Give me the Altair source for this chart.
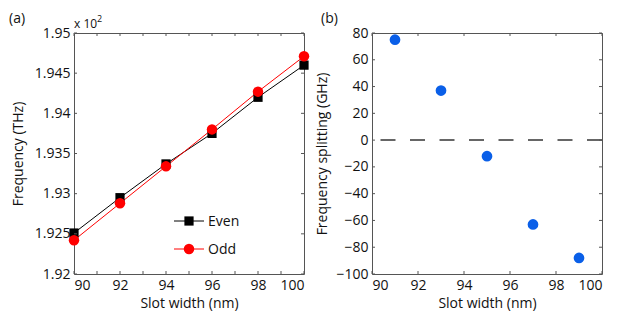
import altair as alt
import pandas as pd

# ---- data ----
slot_a = [90, 92, 94, 96, 98, 100]
even_freq = [1.9251, 1.9295, 1.9337, 1.9375, 1.9420, 1.9460]
odd_freq = [1.9242, 1.9288, 1.9334, 1.9380, 1.9427, 1.9471]

slot_b = [91, 93, 95, 97, 99]
splitting = [75, 37, -12, -63, -88]

xticks_a = list(range(90, 101))
yticks_a = [1.92, 1.925, 1.93, 1.935, 1.94, 1.945, 1.95]
xticks_b = [90, 92, 94, 96, 98, 100]
yticks_b = [-100, -80, -60, -40, -20, 0, 20, 40, 60, 80]

FONT = "Open Sans"
AX = "#555555"
W, H = 230, 241

df_a = pd.DataFrame({
    "w": slot_a * 2,
    "f": even_freq + odd_freq,
    "mode": ["Even"] * len(slot_a) + ["Odd"] * len(slot_a),
})
df_even = df_a[df_a["mode"] == "Even"]
df_odd = df_a[df_a["mode"] == "Odd"]
df_b = pd.DataFrame({"w": slot_b, "f": splitting})

xs_a = alt.Scale(domain=[90, 100], nice=False, zero=False)
ys_a = alt.Scale(domain=[1.92, 1.95], nice=False, zero=False)
xs_b = alt.Scale(domain=[90, 100], nice=False, zero=False)
ys_b = alt.Scale(domain=[-100, 80], nice=False, zero=False)

axis_common = dict(grid=False, domain=False, ticks=False, labelFont=FONT, titleFont=FONT,
                   labelFontSize=14, titleFontSize=14, labelColor="#111", titleColor="#111",
                   titleFontWeight="normal")

x_axis_a = alt.Axis(title="Slot width (nm)", values=xticks_b, labelPadding=4, titlePadding=4, **axis_common)
y_axis_a = alt.Axis(title="Frequency (THz)", values=yticks_a, labelExpr="format(datum.value, '.3~f')",
                    labelPadding=4, titlePadding=9, **axis_common)
x_axis_b = alt.Axis(title="Slot width (nm)", values=xticks_b, labelPadding=4, titlePadding=4, **axis_common)
y_axis_b = alt.Axis(title="Frequency splitting (GHz)", values=yticks_b, labelPadding=4, titlePadding=6,
                    **axis_common)


def inward_ticks(xvals, yvals, xs, ys, xa, ya):
    tx = pd.DataFrame({"w": xvals})
    ty = pd.DataFrame({"f": yvals})
    kw = dict(color=AX, strokeWidth=1)
    bottom = alt.Chart(tx).mark_rule(**kw).encode(
        x=alt.X("w:Q", scale=xs, axis=xa), y=alt.value(H), y2=alt.value(H - 3))
    top = alt.Chart(tx).mark_rule(**kw).encode(
        x=alt.X("w:Q", scale=xs, axis=xa), y=alt.value(0), y2=alt.value(3))
    left = alt.Chart(ty).mark_rule(**kw).encode(
        y=alt.Y("f:Q", scale=ys, axis=ya), x=alt.value(0), x2=alt.value(3))
    right = alt.Chart(ty).mark_rule(**kw).encode(
        y=alt.Y("f:Q", scale=ys, axis=ya), x=alt.value(W), x2=alt.value(W - 3))
    return [bottom, top, left, right]


def label(text, x, y, size=14):
    return alt.Chart(pd.DataFrame({"t": [text]})).mark_text(
        font=FONT, fontSize=size, align="left", baseline="alphabetic", color="#111"
    ).encode(x=alt.value(x), y=alt.value(y), text="t:N")


# ---- panel (a) ----
enc_a = dict(x=alt.X("w:Q", scale=xs_a, axis=x_axis_a), y=alt.Y("f:Q", scale=ys_a, axis=y_axis_a))
line_even = alt.Chart(df_even).mark_line(color="black", strokeWidth=1).encode(**enc_a)
line_odd = alt.Chart(df_odd).mark_line(color="red", strokeWidth=1).encode(**enc_a)
pts_even = alt.Chart(df_even).mark_point(shape="square", filled=True, color="black", size=85,
                                         opacity=1).encode(**enc_a)
pts_odd = alt.Chart(df_odd).mark_point(shape="circle", filled=True, color="red", size=110,
                                       opacity=1).encode(**enc_a)

one = pd.DataFrame({"a": [0]})
leg_even_line = alt.Chart(one).mark_rule(color="black", strokeWidth=1).encode(
    x=alt.value(100), x2=alt.value(130), y=alt.value(188))
leg_even_pt = alt.Chart(one).mark_point(shape="square", filled=True, color="black",
                                        size=85, opacity=1).encode(x=alt.value(115), y=alt.value(188))
leg_odd_line = alt.Chart(one).mark_rule(color="red", strokeWidth=1).encode(
    x=alt.value(100), x2=alt.value(130), y=alt.value(216))
leg_odd_pt = alt.Chart(one).mark_point(shape="circle", filled=True, color="red",
                                       size=110, opacity=1).encode(x=alt.value(115), y=alt.value(216))
leg_even_txt = label("Even", 134, 193)
leg_odd_txt = label("Odd", 134, 221)

panel_a = alt.layer(
    line_even, line_odd, pts_even, pts_odd,
    *inward_ticks(xticks_a, yticks_a, xs_a, ys_a, x_axis_a, y_axis_a),
    leg_even_line, leg_odd_line, leg_even_pt, leg_odd_pt, leg_even_txt, leg_odd_txt,
    label("(a)", -65, -10),
    label("x 10", 0, -5, size=12),
    label("2", 23, -11, size=9),
).properties(width=W, height=H)

# ---- panel (b) ----
enc_b = dict(x=alt.X("w:Q", scale=xs_b, axis=x_axis_b), y=alt.Y("f:Q", scale=ys_b, axis=y_axis_b))
zero_line = alt.Chart(pd.DataFrame({"f": [0]})).mark_rule(
    color="#666666", strokeWidth=2, strokeDash=[15, 14.5]).encode(
    y=alt.Y("f:Q", scale=ys_b, axis=y_axis_b))
pts_b = alt.Chart(df_b).mark_point(shape="circle", filled=True, color="#0a5fe8", size=115,
                                   opacity=1).encode(**enc_b)

panel_b = alt.layer(
    pts_b, zero_line,
    *inward_ticks(xticks_b, yticks_b, xs_b, ys_b, x_axis_b, y_axis_b),
    label("(b)", -51, -10),
).properties(width=W, height=H)

chart = alt.hconcat(panel_a, panel_b, spacing=5).configure_view(
    stroke=AX, strokeWidth=1
).properties(padding={"left": 0, "top": 3, "right": 0, "bottom": 0})

chart.save("out.html", embed_options={"renderer": "svg", "actions": False})
